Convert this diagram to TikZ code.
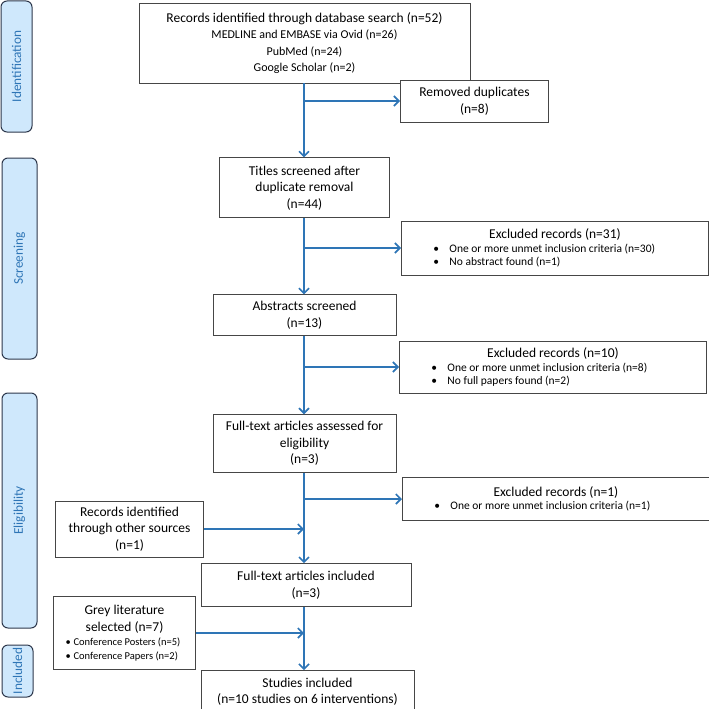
\documentclass[tikz,border=0pt]{standalone}
\usepackage{fontspec}
\setmainfont{Carlito}
\usetikzlibrary{arrows.meta,positioning}
\definecolor{flowblue}{RGB}{46,117,182}
\definecolor{stagefill}{RGB}{207,232,252}
\definecolor{stageline}{RGB}{45,55,75}
\definecolor{boxline}{RGB}{70,70,70}

\newcommand{\bigtxt}{\fontsize{13.5}{16.5}\selectfont}
\newcommand{\subtxt}{\fontsize{12}{15}\selectfont}
\newcommand{\exitem}[1]{\makebox[301pt][l]{\fontsize{11.5}{13}\selectfont
    \hspace*{29pt}\makebox[16pt][l]{\textbullet}#1}}
\newcommand{\greyitem}[1]{\makebox[136pt][l]{\fontsize{10.5}{12}\selectfont
    \hspace*{9pt}\makebox[8pt][l]{\textbullet}#1}}

\begin{document}
\begin{tikzpicture}[x=1pt, y=-1pt,
    box/.style={draw=boxline, line width=0.9pt, fill=white, align=center,
                inner sep=2pt, font=\bigtxt},
    exbox/.style={box, anchor=west, minimum width=307pt},
    stage/.style={draw=stageline, line width=1pt, fill=stagefill, rounded corners=6pt,
                  rotate=90, inner sep=0pt, text=flowblue, font=\fontsize{13.3}{15}\selectfont},
    arr/.style={-{Straight Barb[length=5pt,width=10pt]}, line width=1.6pt, flowblue},
]
    \useasboundingbox (0,0) rectangle (709,709);

    % stages on the left
    \node[stage, minimum width=131pt, minimum height=31pt] (idstage) at (16.5,66.5) {Identification};
    \node[stage, minimum width=201pt, minimum height=35pt] (scstage) at (19.5,258.5) {Screening};
    \node[stage, minimum width=235pt, minimum height=35pt] (elstage) at (19.5,510.5) {Eligibility};
    \node[stage, minimum width=52pt, minimum height=31pt] (instage) at (17.5,671) {Included};

    % main column
    \node[box, minimum width=331pt, minimum height=80pt] (db) at (304.5,43)
        {Records identified through database search (n=52)\\
         \subtxt MEDLINE and EMBASE via Ovid (n=26)\\
         \subtxt PubMed (n=24)\\
         \subtxt Google Scholar (n=2)};
    \node[box, minimum width=170pt, minimum height=60pt, below=74pt of db] (titles)
        {Titles screened after\\duplicate removal\\(n=44)};
    \node[box, minimum width=183pt, minimum height=41pt, below=76pt of titles] (abstracts)
        {Abstracts screened\\(n=13)};
    \node[box, minimum width=183pt, minimum height=58pt, below=78pt of abstracts] (assessed)
        {Full-text articles assessed for\\eligibility\\(n=3)};
    \node[box, minimum width=210pt, minimum height=43pt, below=90pt of assessed, xshift=1.5pt] (fulltext)
        {Full-text articles included\\(n=3)};
    \node[box, minimum width=213pt, minimum height=42pt, below=63pt of fulltext, xshift=1.5pt] (studies)
        {Studies included\\(n=10 studies on 6 interventions)};
    \coordinate (spine) at (304,0);

    % side boxes
    \node[box, minimum width=148pt, minimum height=42pt, anchor=west] (dup) at (400,101)
        {Removed duplicates\\(n=8)};
    \node[exbox, minimum height=54pt] (ex31) at (401,248)
        {Excluded records (n=31)\\[-3pt]
         \exitem{One or more unmet inclusion criteria (n=30)}\\[-3.5pt]
         \exitem{No abstract found (n=1)}};
    \node[exbox, minimum height=52pt] (ex10) at (399,367)
        {Excluded records (n=10)\\[-3pt]
         \exitem{One or more unmet inclusion criteria (n=8)}\\[-3.5pt]
         \exitem{No full papers found (n=2)}};
    \node[exbox, minimum height=43pt] (ex1) at (402,499)
        {Excluded records (n=1)\\[-3pt]
         \exitem{One or more unmet inclusion criteria (n=1)}};
    \node[box, minimum width=148pt, minimum height=56pt, anchor=east] (other) at (204,529)
        {Records identified\\through other sources\\(n=1)};
    \node[box, minimum width=142pt, minimum height=73pt, anchor=east] (grey) at (196,633)
        {Grey literature\\selected (n=7)\\[-2pt]
         \greyitem{Conference Posters (n=5)}\\[-3pt]
         \greyitem{Conference Papers (n=2)}};

    % flow
    \draw[arr] (db.south -| spine) -- (titles.north -| spine);
    \draw[arr] (spine |- dup.west) -- (dup.west);
    \draw[arr] (titles.south -| spine) -- (abstracts.north -| spine);
    \draw[arr] (spine |- ex31.west) -- (ex31.west);
    \draw[arr] (abstracts.south -| spine) -- (assessed.north -| spine);
    \draw[arr] (spine |- ex10.west) -- (ex10.west);
    \draw[arr] (assessed.south -| spine) -- (fulltext.north -| spine);
    \draw[arr] (spine |- ex1.west) -- (ex1.west);
    \draw[arr] (other.east) -- (other.east -| spine);
    \draw[arr] (fulltext.south -| spine) -- (studies.north -| spine);
    \draw[arr] (grey.east) -- (grey.east -| spine);
\end{tikzpicture}
\end{document}
